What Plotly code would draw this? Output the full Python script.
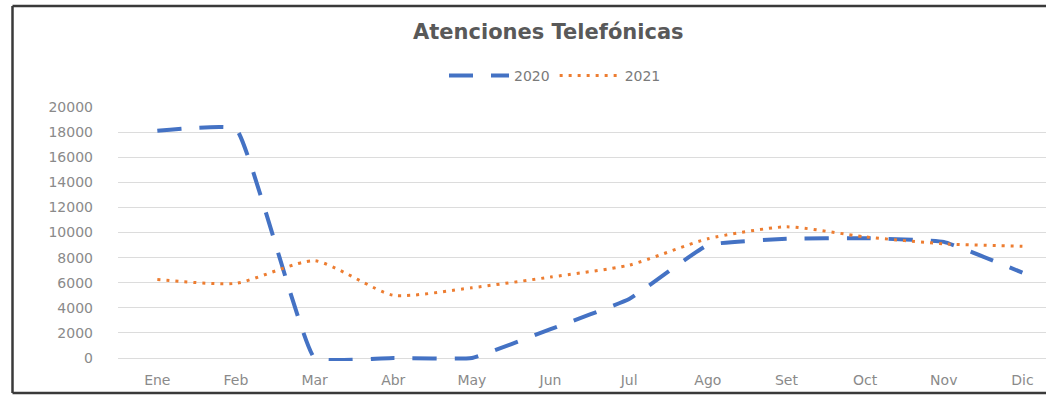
import plotly.graph_objects as go

months = ["Ene", "Feb", "Mar", "Abr", "May", "Jun", "Jul", "Ago", "Set", "Oct", "Nov", "Dic"]
values_2020 = [18100, 18250, 0, 0, 0, 2300, 4700, 9000, 9500, 9550, 9250, 6800]
values_2021 = [6250, 5950, 7750, 5000, 5600, 6450, 7400, 9500, 10450, 9650, 9100, 8900]
y_ticks = list(range(0, 20001, 2000))

W, H = 1046, 396
PL, PR, PT, PB = 118, 1046, 107, 361  # plot area pixel box (a few px below the 0 line)
pw, ph = PR - PL, PB - PT
Y_MIN = -239  # small room below 0 so the zero-level dashes are not clipped

def px_x(x):
    return (x - PL) / pw

def px_y(y):
    return (PB - y) / ph

fig = go.Figure()
fig.add_trace(go.Scatter(
    x=months, y=values_2020, name="2020", mode="lines",
    line=dict(color="#4472C4", width=4, dash="24px,18px", shape="spline", smoothing=0.3),
))
fig.add_trace(go.Scatter(
    x=months, y=values_2021, name="2021", mode="lines",
    line=dict(color="#ED7D31", width=3, dash="3px,6px", shape="spline", smoothing=0.6),
))

fig.update_layout(
    width=W, height=H,
    margin=dict(l=PL, r=W - PR, t=PT, b=H - PB),
    paper_bgcolor="white", plot_bgcolor="white",
    showlegend=True,
    legend=dict(orientation="h", x=px_x(555), y=px_y(76), xanchor="center", yanchor="middle",
                font=dict(family="DejaVu Sans", size=14, color="#7a7a7a"),
                bgcolor="rgba(0,0,0,0)", itemwidth=60),
    xaxis=dict(range=[-0.5, 11.3], showgrid=False, zeroline=False, showline=False,
               ticks="", tickfont=dict(family="DejaVu Sans", size=14, color="#8a8a8a"),
               ticklabelstandoff=9, fixedrange=True),
    yaxis=dict(range=[Y_MIN, 20000], tickvals=y_ticks, tickformat="d", showgrid=True,
               gridcolor="#dcdcdc", gridwidth=1, zeroline=False, showline=False, ticks="",
               ticklabelstandoff=24, tickfont=dict(family="DejaVu Sans", size=14, color="#8a8a8a"),
               fixedrange=True),
    annotations=[dict(
        text="<b>Atenciones Telefónicas</b>", xref="paper", yref="paper",
        x=px_x(548), y=px_y(32), xanchor="center", yanchor="middle", showarrow=False,
        font=dict(family="DejaVu Sans", size=21, color="#595959"),
    )],
    shapes=[
        dict(type="line", xref="paper", yref="paper", x0=px_x(12.5), x1=px_x(12.5),
             y0=px_y(6), y1=px_y(393), line=dict(color="#3a3a3a", width=2.5)),
        dict(type="line", xref="paper", yref="paper", x0=px_x(12.5), x1=px_x(1060),
             y0=px_y(6), y1=px_y(6), line=dict(color="#3a3a3a", width=2.5)),
        dict(type="line", xref="paper", yref="paper", x0=px_x(12.5), x1=px_x(1060),
             y0=px_y(393), y1=px_y(393), line=dict(color="#3a3a3a", width=2.5)),
    ],
)

fig.write_html("out.html", config={"displayModeBar": False},
               post_script="document.body.style.margin='0';document.body.style.padding='0';")
